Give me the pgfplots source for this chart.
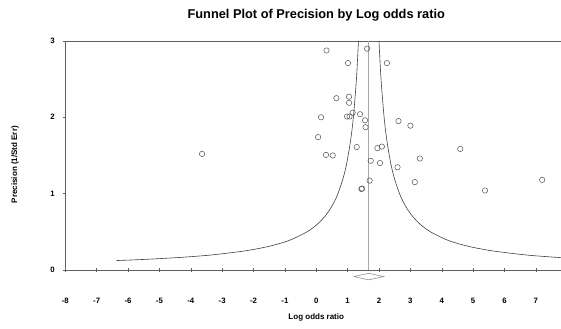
\documentclass[border=0pt]{standalone}
\usepackage{fontspec}
\setmainfont{Liberation Sans}
\usepackage{pgfplots}
\pgfplotsset{compat=1.18}
\definecolor{axgray}{HTML}{606060}
\definecolor{ptgray}{HTML}{505050}
\definecolor{fungray}{HTML}{404040}
\definecolor{cgray}{HTML}{A8A8A8}
\definecolor{dgray}{HTML}{909090}
\begin{document}
\begin{tikzpicture}
\begin{axis}[
  scale only axis,
  width=496pt, height=229pt,
  xmin=-8, xmax=7.8, ymin=0, ymax=3,
  clip=false,
  axis x line*=bottom, axis y line*=left,
  axis line style={axgray, line width=0.6pt},
  xtick={-8,-7,...,7}, ytick={0,1,2,3},
  tick align=outside,
  x tick style={axgray, line width=0.5pt, yshift=2pt},
  y tick style={axgray, line width=0.5pt},
  major tick length=4pt,
  y tick style={/pgfplots/major tick length=2.5pt},
  tick label style={font=\bfseries\fontsize{7.8}{9}\selectfont},
  /pgf/number format/assume math mode=true,
  xticklabel style={yshift=-21pt},
  yticklabel style={xshift=-3pt},
  title={Funnel Plot of Precision by Log odds ratio},
  title style={font=\bfseries\fontsize{12.8}{15}\selectfont, at={(axis description cs:0.5063,1)}, anchor=center, yshift=20pt},
  xlabel={Log odds ratio},
  xlabel style={font=\bfseries\fontsize{8}{9}\selectfont, at={(axis description cs:0.5063,0)}, anchor=center, yshift=-48pt},
  ylabel={Precision (1/Std Err)},
  ylabel style={font=\bfseries\fontsize{8}{9}\selectfont, at={(axis description cs:-0.1014,0.46)}, anchor=center},
]
% top frame line
\draw[axgray, line width=0.6pt] (rel axis cs:0,1) -- (rel axis cs:1,1);
% centre line
\addplot[cgray, line width=1pt] coordinates {(1.672,0) (1.672,3)};
% funnel, left
\addplot[fungray, line width=0.6pt, smooth] coordinates {
(-6.361,0.122) (-5.866,0.13) (-5.328,0.14) (-4.453,0.16) (-3.772,0.18) (-3.228,0.20)
(-2.248,0.25) (-1.595,0.30) (-1.128,0.35) (-0.778,0.40) (-0.288,0.50) (0.039,0.60)
(0.272,0.70) (0.447,0.80) (0.583,0.90) (0.692,1.00) (0.855,1.2) (0.972,1.4)
(1.0955,1.7) (1.182,2.0) (1.280,2.5) (1.345,3.0)};
% funnel, right
\addplot[fungray, line width=0.6pt, smooth] coordinates {
(7.797,0.16) (7.116,0.18) (6.572,0.20)
(5.592,0.25) (4.939,0.30) (4.472,0.35) (4.122,0.40) (3.632,0.50) (3.305,0.60)
(3.072,0.70) (2.897,0.80) (2.761,0.90) (2.652,1.00) (2.489,1.2) (2.372,1.4)
(2.2485,1.7) (2.162,2.0) (2.064,2.5) (1.999,3.0)};
% summary diamond
\addplot[dgray, line width=0.6pt] coordinates {(1.194,-0.088) (1.672,-0.045) (2.150,-0.088) (1.672,-0.131) (1.194,-0.088)};
% studies
\addplot[only marks, mark=o, mark size=2.7pt, mark options={ptgray, line width=0.5pt}] coordinates {
(0.325,2.875) (1.62,2.90) (1.01,2.71) (2.25,2.71) (0.64,2.25) (1.045,2.27)
(1.045,2.19) (0.153,2.00) (0.98,2.01) (1.06,2.01) (1.16,2.06) (1.395,2.04)
(1.555,1.96) (1.57,1.87) (2.62,1.95) (3.0,1.89) (0.06,1.74) (1.29,1.61)
(1.95,1.595) (2.09,1.615) (0.31,1.507) (0.525,1.50) (1.735,1.43) (2.03,1.40)
(2.59,1.345) (3.30,1.46) (4.59,1.585) (3.14,1.15) (1.70,1.17) (1.44,1.06)
(1.46,1.065) (5.38,1.04) (7.20,1.18) (-3.64,1.52)};
\end{axis}
\pgfresetboundingbox
\path[use as bounding box] (-65.3pt,-59pt) rectangle (496pt,270pt);
\end{tikzpicture}
\end{document}
